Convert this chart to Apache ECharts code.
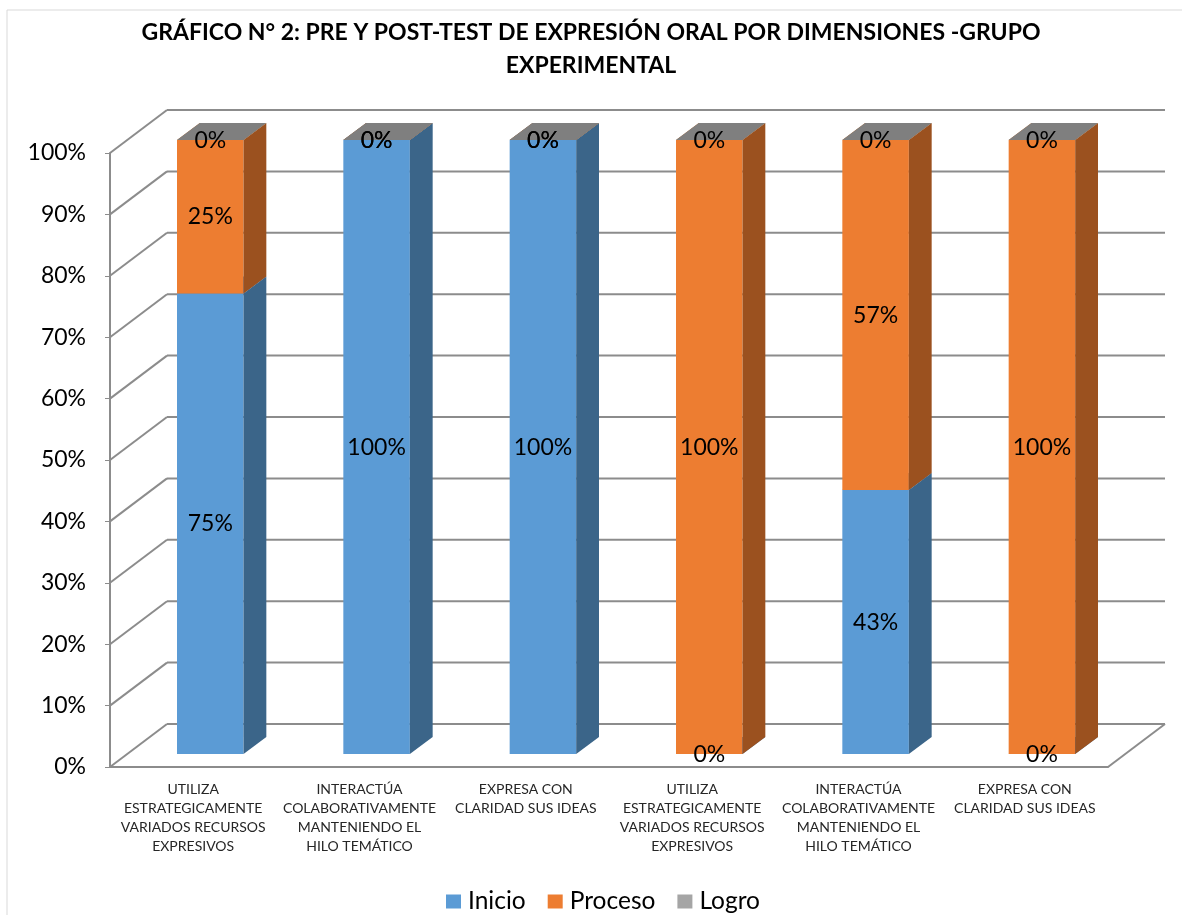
<!DOCTYPE html>
<html>
<head>
<meta charset="utf-8">
<script src="https://cdn.jsdelivr.net/npm/echarts@6/dist/echarts.min.js"></script>
<style>
html,body{margin:0;padding:0;background:#fff;}
#chart{width:1182px;height:915px;}
</style>
</head>
<body>
<div id="chart"></div>
<script>
// ---- data ----
const categories = [
  'UTILIZA\nESTRATEGICAMENTE\nVARIADOS RECURSOS\nEXPRESIVOS',
  'INTERACTÚA\nCOLABORATIVAMENTE\nMANTENIENDO EL\nHILO TEMÁTICO',
  'EXPRESA CON\nCLARIDAD SUS IDEAS',
  'UTILIZA\nESTRATEGICAMENTE\nVARIADOS RECURSOS\nEXPRESIVOS',
  'INTERACTÚA\nCOLABORATIVAMENTE\nMANTENIENDO EL\nHILO TEMÁTICO',
  'EXPRESA CON\nCLARIDAD SUS IDEAS'
];
const seriesNames = ['Inicio', 'Proceso', 'Logro'];
const inicio  = [75, 100, 100, 0, 43, 0];
const proceso = [25, 0, 0, 100, 57, 100];
const logro   = [0, 0, 0, 0, 0, 0];
const yTicks  = [0, 10, 20, 30, 40, 50, 60, 70, 80, 90, 100];

// ---- style ----
const FONT = 'Lato, "Open Sans", sans-serif';
const DX = 57, DY = -43;          // depth of the 3D box
const FRONT = 0.30, DEPTH = 0.40; // bar placement within depth
const BAR_W = 0.40;
const WALL = '#8c8c8c';
const faceColors = ['#5B9BD5', '#ED7D31', '#A5A5A5'];
const sideColors = ['#3B6589', '#9B511F', '#7a7a7a'];
const topColors  = ['#4a80b0', '#c0651f', '#7F7F7F'];

const allValues = [inicio, proceso, logro];

function stackData(sIdx) {
  return categories.map(function (c, i) {
    let base = 0;
    for (let k = 0; k < sIdx; k++) base += allValues[k][i];
    return [i, base, base + allValues[sIdx][i], allValues[sIdx][i]];
  });
}

function barRender(sIdx) {
  return function (params, api) {
    const c = api.value(0), b = api.value(1), t = api.value(2);
    const p0 = api.coord([c, b]), p1 = api.coord([c, t]);
    const w = api.size([1, 0])[0] * BAR_W;
    const ox = FRONT * DX, oy = FRONT * DY, dx = DEPTH * DX, dy = DEPTH * DY;
    const x0 = p0[0] - w / 2 + ox, x1 = x0 + w;
    const yb = p0[1] + oy, yt = p1[1] + oy;
    return {
      type: 'group',
      children: [
        { type: 'rect', shape: { x: x0, y: yt, width: w, height: yb - yt },
          style: { fill: faceColors[sIdx] } },
        { type: 'polygon', shape: { points: [[x1, yb], [x1 + dx, yb + dy], [x1 + dx, yt + dy], [x1, yt]] },
          style: { fill: sideColors[sIdx] } },
        { type: 'polygon', shape: { points: [[x0, yt], [x1, yt], [x1 + dx, yt + dy], [x0 + dx, yt + dy]] },
          style: { fill: topColors[sIdx] } }
      ]
    };
  };
}

function labelRender(params, api) {
  const c = api.value(0), b = api.value(1), t = api.value(2), v = api.value(3);
  const p0 = api.coord([c, b]), p1 = api.coord([c, t]);
  return {
    type: 'text',
    style: {
      x: p0[0] + FRONT * DX, y: (p0[1] + p1[1]) / 2 + FRONT * DY,
      text: v + '%', fill: '#000', font: '23px ' + FONT,
      align: 'center', verticalAlign: 'middle'
    }
  };
}

function wallRender(params, api) {
  const v = api.value(1);
  const cs = params.coordSys;
  const y = api.coord([0, v])[1];
  const xL = cs.x, xR = cs.x + cs.width;
  const st = { stroke: WALL, lineWidth: 2 };
  const ch = [
    { type: 'line', shape: { x1: xL, y1: y, x2: xL + DX, y2: y + DY }, style: st },
    { type: 'line', shape: { x1: xL + DX, y1: y + DY, x2: xR + DX, y2: y + DY }, style: st }
  ];
  if (v === 0) ch.push({ type: 'line', shape: { x1: xR, y1: y, x2: xR + DX, y2: y + DY }, style: st });
  return { type: 'group', children: ch };
}

let labelData = [];
for (let s = 0; s < 3; s++) labelData = labelData.concat(stackData(s));

const chart = echarts.init(document.getElementById('chart'), null, { renderer: 'canvas' });
chart.setOption({
  animation: false,
  color: faceColors,
  textStyle: { fontFamily: FONT },
  title: {
    text: 'GRÁFICO N° 2: PRE Y POST-TEST DE EXPRESIÓN ORAL POR DIMENSIONES -GRUPO\nEXPERIMENTAL',
    left: 'center', top: 11,
    textStyle: { fontFamily: FONT, fontSize: 23, fontWeight: 'bold', color: '#000', lineHeight: 33, align: 'center' }
  },
  graphic: [{
    type: 'rect', silent: true, z: -10,
    shape: { x: 7, y: 10, width: 1200, height: 1000 },
    style: { fill: 'none', stroke: '#d9d9d9', lineWidth: 1 }
  }],
  legend: {
    data: seriesNames,
    top: 884, left: 441,
    icon: 'rect', itemWidth: 15, itemHeight: 14, itemGap: 22,
    textStyle: { fontFamily: FONT, fontSize: 24.5, color: '#000', padding: [0, 0, 0, 2] }
  },
  grid: { left: 110, right: 74, top: 153, bottom: 148 },
  xAxis: {
    type: 'category', data: categories,
    axisLine: { lineStyle: { color: WALL, width: 2 } },
    axisTick: { length: 6, lineStyle: { color: WALL, width: 1 } },
    axisLabel: { interval: 0, fontFamily: FONT, fontSize: 14, color: '#262626', lineHeight: 19, margin: 13 },
    splitLine: { show: false }
  },
  yAxis: {
    type: 'value', min: 0, max: 100, interval: 10,
    axisLine: { show: true, lineStyle: { color: WALL, width: 2 } },
    axisTick: { show: true, length: 5, lineStyle: { color: WALL, width: 1 } },
    axisLabel: { formatter: '{value}%', fontFamily: FONT, fontSize: 23, color: '#000', margin: 24 },
    splitLine: { show: false }
  },
  series: [
    { type: 'custom', name: '_walls', silent: true, z: 1,
      data: yTicks.map(function (v) { return [0, v]; }),
      encode: { x: 0, y: 1 }, renderItem: wallRender },
    { type: 'custom', name: seriesNames[0], z: 2, itemStyle: { color: faceColors[0] },
      data: stackData(0), encode: { x: 0, y: [1, 2] }, renderItem: barRender(0) },
    { type: 'custom', name: seriesNames[1], z: 2, itemStyle: { color: faceColors[1] },
      data: stackData(1), encode: { x: 0, y: [1, 2] }, renderItem: barRender(1) },
    { type: 'custom', name: seriesNames[2], z: 2, itemStyle: { color: faceColors[2] },
      data: stackData(2), encode: { x: 0, y: [1, 2] }, renderItem: barRender(2) },
    { type: 'custom', name: '_labels', silent: true, z: 5,
      data: labelData, encode: { x: 0, y: [1, 2] }, renderItem: labelRender }
  ]
});
</script>
</body>
</html>
